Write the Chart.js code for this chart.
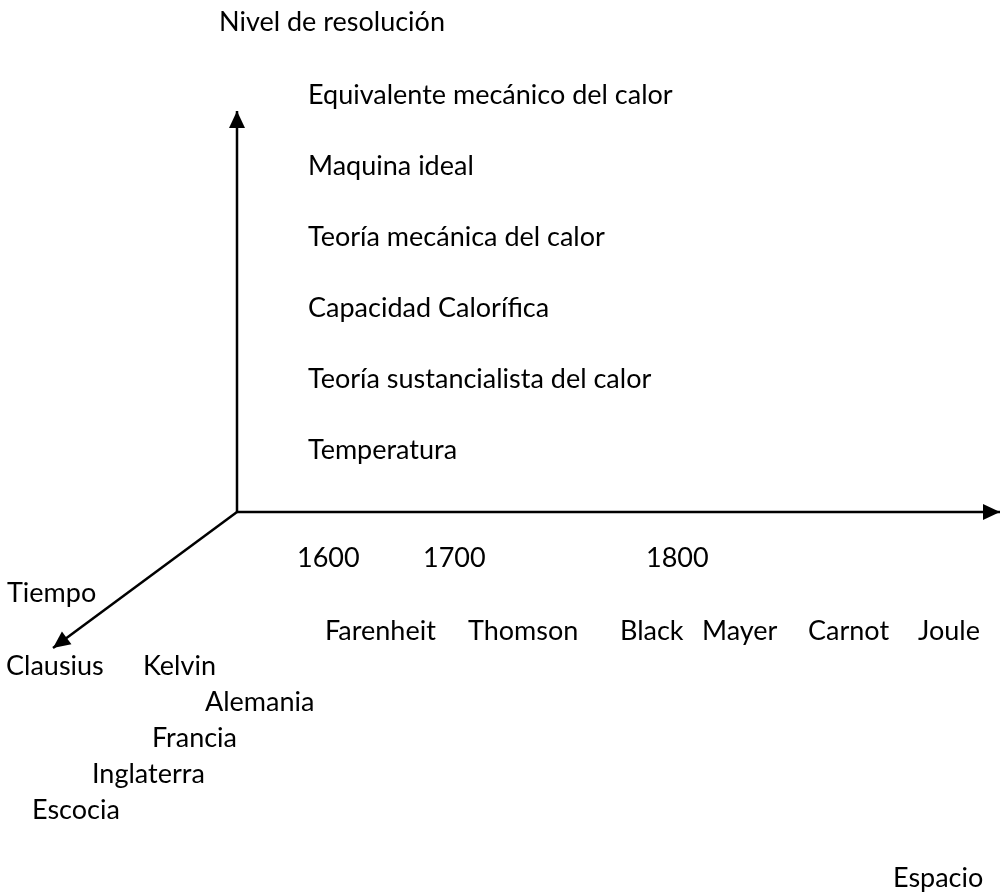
<!DOCTYPE html>
<html>
<head>
<meta charset="utf-8">
<script src="https://cdn.jsdelivr.net/npm/chart.js@4"></script>
<style>
    html, body { margin: 0; padding: 0; background: #fff; }
</style>
</head>
<body>
<canvas id="diagram" width="1002" height="893"></canvas>
<script>
// --- diagram data (in page units, 0..1002 x 0..893) ---
var origin = { x: 237, y: 512 };
var nivelEnd = { x: 237, y: 111 };
var espacioEnd = { x: 1000, y: 512 };
var tiempoEnd = { x: 53, y: 648 };

var axisTitles = ['Nivel de resolución', 'Tiempo', 'Espacio'];
var axisTitleX = [219, 7, 893];
var axisTitleY = [22, 593, 878];

var levels = ['Temperatura', 'Teoría sustancialista del calor', 'Capacidad Calorífica',
    'Teoría mecánica del calor', 'Maquina ideal', 'Equivalente mecánico del calor'];
var levelX = 308;
var levelY = [450, 379, 308, 237, 166, 95];

var years = ['1600', '1700', '1800'];
var yearX = [297, 423, 646];
var yearY = 558;

var scientists = ['Farenheit', 'Thomson', 'Black', 'Mayer', 'Carnot', 'Joule'];
var scientistX = [325, 468, 620, 702, 808, 918];
var scientistY = 631;

var places = ['Clausius', 'Kelvin', 'Alemania', 'Francia', 'Inglaterra', 'Escocia'];
var placeX = [6, 143, 205, 152, 92, 32];
var placeY = [666, 666, 702, 738, 774, 810];

function points(xs, ys) {
    return xs.map(function (x, i) {
        return { x: x, y: Array.isArray(ys) ? ys[i] : ys };
    });
}

function axisSet(end) {
    return {
        data: [origin, end],
        showLine: true,
        arrow: true,
        borderColor: '#000',
        borderWidth: 2.5,
        pointRadius: 0
    };
}

function textSet(texts, xs, ys) {
    return {
        data: points(xs, ys),
        texts: texts,
        showLine: false,
        pointRadius: 0
    };
}

var arrowHeads = {
    id: 'arrowHeads',
    afterDatasetsDraw: function (chart) {
        var ctx = chart.ctx;
        chart.data.datasets.forEach(function (ds, i) {
            if (!ds.arrow) return;
            var pts = chart.getDatasetMeta(i).data;
            var a = pts[pts.length - 2], b = pts[pts.length - 1];
            var ang = Math.atan2(b.y - a.y, b.x - a.x);
            var len = 17, half = 8;
            ctx.save();
            ctx.fillStyle = '#000';
            ctx.translate(b.x, b.y);
            ctx.rotate(ang);
            ctx.beginPath();
            ctx.moveTo(0, 0);
            ctx.lineTo(-len, -half);
            ctx.lineTo(-len, half);
            ctx.closePath();
            ctx.fill();
            ctx.restore();
        });
    }
};

var textLabels = {
    id: 'textLabels',
    afterDatasetsDraw: function (chart) {
        var ctx = chart.ctx;
        ctx.save();
        ctx.fillStyle = '#000';
        ctx.font = '27px Lato';
        ctx.textAlign = 'left';
        ctx.textBaseline = 'middle';
        chart.data.datasets.forEach(function (ds, i) {
            if (!ds.texts) return;
            chart.getDatasetMeta(i).data.forEach(function (pt, j) {
                ctx.fillText(ds.texts[j], pt.x, pt.y);
            });
        });
        ctx.restore();
    }
};

var ctx = document.getElementById('diagram').getContext('2d');

var chart = new Chart(ctx, {
    type: 'scatter',
    data: {
        datasets: [
            axisSet(nivelEnd),
            axisSet(espacioEnd),
            axisSet(tiempoEnd),
            textSet(axisTitles, axisTitleX, axisTitleY),
            textSet(levels, levels.map(function () { return levelX; }), levelY),
            textSet(years, yearX, yearY),
            textSet(scientists, scientistX, scientistY),
            textSet(places, placeX, placeY)
        ]
    },
    options: {
        responsive: false,
        animation: false,
        layout: { padding: 0 },
        scales: {
            x: { type: 'linear', min: 0, max: 1002, display: false },
            y: { type: 'linear', min: 0, max: 893, reverse: true, display: false }
        },
        plugins: {
            legend: { display: false },
            tooltip: { enabled: false }
        }
    },
    plugins: [arrowHeads, textLabels]
});
</script>
</body>
</html>
